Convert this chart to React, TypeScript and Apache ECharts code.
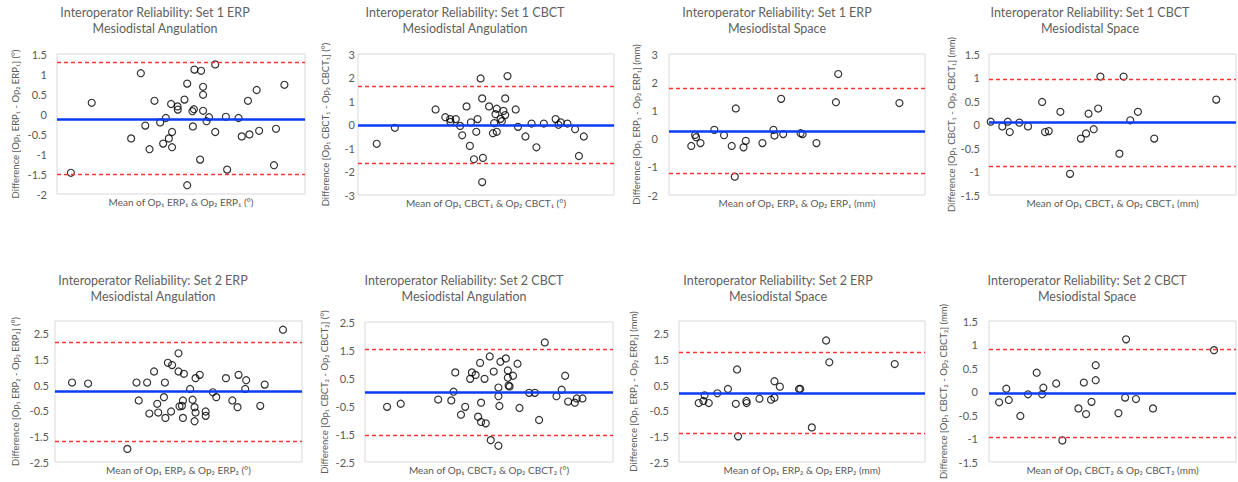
import React, { useEffect, useRef } from "react";
import * as echarts from "echarts";

const FONT = "Lato, 'Liberation Sans', 'DejaVu Sans', sans-serif";
const GRAY = "#595959";
const BLUE = "#0a3cf5";
const RED = "#ff3333";

// x = relative position along the (unlabelled) mean axis, 0–100; y = difference
const set1ErpAngle: [number, number][] = [
  [5.6, -1.47], [14, 0.28], [33.8, 1.02], [29.9, -0.61], [35.6, -0.29], [37.3, -0.88], [39.3, 0.33],
  [41.6, -0.21], [42.8, -0.74], [43.9, -0.1], [45.1, -0.61], [46, 0.25], [46.4, -0.45], [46.4, -0.83],
  [48.6, 0.19], [48.7, 0.11], [51.4, 0.36], [52.5, 0.76], [52.5, -1.78], [54.6, 0.07], [54.8, -0.31],
  [55.2, 0.12], [55.4, 1.11], [57.7, -1.14], [58.1, 1.08], [58.9, 0.68], [58.9, 0.48], [58.9, 0.08],
  [60.3, -0.18], [61.3, -0.08], [63.8, 1.24], [63.8, -0.45], [68.1, -0.07], [68.6, -1.39], [73.2, -0.1],
  [74.5, -0.56], [77, 0.33], [77.6, -0.51], [80.5, 0.6], [81.5, -0.42], [87.5, -1.28], [88.3, -0.37],
  [91.7, 0.73],
];
const set1CbctAngle: [number, number][] = [
  [7.3, -0.82], [14.4, -0.14], [30.3, 0.64], [34.1, 0.31], [36, 0.23], [36.1, 0.11], [38.2, 0.23],
  [39.9, -0.06], [40.7, -0.46], [42.4, 0.77], [43.7, -0.91], [44.1, 0.09], [45.3, -1.48], [46.2, -0.31],
  [46.7, 0.23], [47.9, 1.96], [48.5, 1.11], [48.5, -2.45], [48.8, -1.42], [51.2, 0.77], [52.7, -0.37],
  [53.2, 0.06], [53.7, 0.44], [54.2, 0.67], [54.2, -0.31], [55.7, 0.24], [56.2, 0.14], [56.8, 0.58],
  [57.5, 1.11], [57.5, 0.4], [58.4, 2.06], [61.6, 0.64], [62.5, -0.1], [65.4, -0.51], [67.8, 0.04],
  [69.7, -0.97], [72.6, 0.04], [77.2, 0.23], [78.3, -0.01], [79.2, 0.09], [81.8, 0.04], [84.8, -0.2],
  [86.3, -1.34], [88.2, -0.51],
];
const set1ErpSpace: [number, number][] = [
  [8.7, -0.26], [10.2, 0.13], [10.6, 0.05], [12.3, -0.16], [17.7, 0.31], [21.5, 0.12], [24.5, -0.26],
  [25.7, -1.35], [26.1, 1.07], [29.1, -0.31], [30, -0.08], [36.5, -0.16], [40.8, 0.31], [41.2, 0.11],
  [43.8, 1.41], [44.6, 0.16], [51.4, 0.19], [52.2, 0.16], [57.6, -0.16], [65.2, 1.29], [66.1, 2.29],
  [90, 1.26],
];
const set1CbctSpace: [number, number][] = [
  [0.7, 0.06], [5.4, -0.04], [7.6, 0.06], [8.4, -0.16], [12.3, 0.04], [15.8, -0.04], [21.5, 0.48],
  [22.7, -0.16], [24.2, -0.14], [28.9, 0.27], [32.8, -1.05], [37.2, -0.3], [39.3, -0.19], [40.3, 0.23],
  [42.4, -0.1], [44.2, 0.34], [45.1, 1.02], [52.8, -0.62], [54.5, 1.02], [57.2, 0.09], [60.3, 0.27],
  [66.9, -0.3], [92, 0.53],
];
const set2ErpAngle: [number, number][] = [
  [6.9, 0.6], [13.4, 0.56], [29.3, -1.99], [33, 0.6], [33.9, -0.1], [37.3, 0.6], [38.2, -0.61],
  [40.1, 1.03], [41.4, -0.23], [41.8, -0.57], [44.1, 0.03], [44.5, 0.6], [44.7, -0.78], [45.7, 1.37],
  [47, -0.53], [47.4, 1.28], [50, 1.74], [50, 1.03], [50.4, -0.33], [51.4, -0.31], [51.8, -0.1],
  [51.8, -0.78], [52.2, 0.94], [54.7, 0.35], [55.7, -0.07], [56.5, -0.36], [56.9, 0.77], [56.9, -0.57],
  [56.5, -0.91], [58.6, 0.9], [61, -0.53], [61, -0.7], [63.9, 0.22], [65.3, 0.03], [69.2, 0.77],
  [71.8, -0.1], [73.9, -0.36], [74.3, 0.9], [77.4, 0.69], [77, 0.35], [83.1, -0.31], [84.9, 0.52],
  [92.3, 2.66],
];
const set2CbctAngle: [number, number][] = [
  [8.9, -0.53], [14.4, -0.42], [29.5, -0.27], [34.8, -0.3], [35.7, 0.01], [36.4, 0.7], [38.7, -0.81],
  [40.4, -0.53], [42.4, 0.47], [43.1, 0.7], [44.6, 0.61], [45.6, -0.88], [46.4, 1.04], [46.8, -0.38],
  [46.8, -1.07], [48.2, 0.47], [48.7, -1.12], [50.3, 1.27], [50.7, -1.72], [51.9, 0.73], [53.8, 0.16],
  [53.8, -0.15], [53.8, -1.92], [54.2, -0.5], [54.6, 1.08], [56.8, 1.2], [57.6, 0.77], [57.6, 0.51],
  [57.9, 0.23], [58.3, 0.2], [59.7, 0.58], [61.5, 1.01], [62.3, -0.57], [66.2, -0.03], [68.5, -0.03],
  [70.2, -1], [72.5, 1.77], [77.2, -0.15], [79.3, 0.08], [80.7, 0.58], [81.9, -0.34], [84.6, -0.38],
  [85.4, -0.23], [87.7, -0.23],
];
const set2ErpSpace: [number, number][] = [
  [8, -0.2], [9.9, -0.12], [10.4, 0.1], [12.1, -0.2], [15.6, 0.18], [19.9, 0.35], [23.1, -0.23],
  [23.6, 1.11], [24, -1.5], [27.4, -0.12], [27.5, -0.2], [32.7, -0.03], [37.4, -0.07], [38.8, 0.01],
  [38.8, 0.65], [41, 0.44], [48.8, 0.35], [49.3, 0.35], [54, -1.15], [59.8, 2.24], [61.1, 1.39],
  [87.7, 1.32],
];
const set2CbctSpace: [number, number][] = [
  [4.1, -0.23], [7, 0.06], [8, -0.18], [12.7, -0.52], [15.8, -0.06], [19.3, 0.4], [21.5, -0.06],
  [22, 0.08], [27.2, 0.17], [29.7, -1.04], [36.2, -0.36], [38.4, 0.19], [39.3, -0.48], [41.5, -0.22],
  [43.2, 0.56], [43.2, 0.24], [52.4, -0.46], [55.1, -0.13], [55.5, 1.11], [59.5, -0.16], [66.4, -0.36],
  [91.1, 0.88],
];

// [mean difference, upper limit, lower limit]
const lines1ErpAngle = [-0.12, 1.29, -1.51];
const lines1CbctAngle = [-0.02, 1.62, -1.64];
const lines1ErpSpace = [0.27, 1.77, -1.24];
const lines1CbctSpace = [0.04, 0.97, -0.88];
const lines2ErpAngle = [0.27, 2.17, -1.68];
const lines2CbctAngle = [-0.01, 1.53, -1.55];
const lines2ErpSpace = [0.18, 1.8, -1.38];
const lines2CbctSpace = [-0.04, 0.89, -0.97];

// y tick labels
const ticksA = [-2, -1.5, -1, -0.5, 0, 0.5, 1, 1.5];
const ticksB = [-3, -2, -1, 0, 1, 2, 3];
const ticksC = [-2, -1, 0, 1, 2, 3];
const ticksD = [-1.5, -1, -0.5, 0, 0.5, 1, 1.5];
const ticksE = [-2.5, -1.5, -0.5, 0.5, 1.5, 2.5];

const titles = [
  "Interoperator Reliability: Set 1 ERP\nMesiodistal Angulation",
  "Interoperator Reliability: Set 1 CBCT\nMesiodistal Angulation",
  "Interoperator Reliability: Set 1 ERP\nMesiodistal Space",
  "Interoperator Reliability: Set 1 CBCT\nMesiodistal Space",
  "Interoperator Reliability: Set 2 ERP\nMesiodistal Angulation",
  "Interoperator Reliability: Set 2 CBCT\nMesiodistal Angulation",
  "Interoperator Reliability: Set 2 ERP\nMesiodistal Space",
  "Interoperator Reliability: Set 2 CBCT\nMesiodistal Space",
];
const xNames = [
  "Mean of Op₁ ERP₁ & Op₂ ERP₁ (°)",
  "Mean of Op₁ CBCT₁ & Op₂ CBCT₁ (°)",
  "Mean of Op₁ ERP₁ & Op₂ ERP₁ (mm)",
  "Mean of Op₁ CBCT₁ & Op₂ CBCT₁ (mm)",
  "Mean of Op₁ ERP₂ & Op₂ ERP₂ (°)",
  "Mean of Op₁ CBCT₂ & Op₂ CBCT₂ (°)",
  "Mean of Op₁ ERP₂ & Op₂ ERP₂ (mm)",
  "Mean of Op₁ CBCT₂ & Op₂ CBCT₂ (mm)",
];
const yNames = [
  "Difference [Op₁ ERP₁ - Op₂ ERP₁] (°)",
  "Difference [Op₁ CBCT₁ - Op₂ CBCT₁] (°)",
  "Difference [Op₁ ERP₁ - Op₂ ERP₁] (mm)",
  "Difference [Op₁ CBCT₁ - Op₂ CBCT₁] (mm)",
  "Difference [Op₁ ERP₂ - Op₂ ERP₂] (°)",
  "Difference [Op₁ CBCT₂ - Op₂ CBCT₂] (°)",
  "Difference [Op₁ ERP₂ - Op₂ ERP₂] (mm)",
  "Difference [Op₁ CBCT₂ - Op₂ CBCT₂] (mm)",
];

const panelData = [set1ErpAngle, set1CbctAngle, set1ErpSpace, set1CbctSpace, set2ErpAngle, set2CbctAngle, set2ErpSpace, set2CbctSpace];
const panelLines = [lines1ErpAngle, lines1CbctAngle, lines1ErpSpace, lines1CbctSpace, lines2ErpAngle, lines2CbctAngle, lines2ErpSpace, lines2CbctSpace];
// [min, max, step, ticks]
const panelY: [number, number, number, number[]][] = [
  [-2, 1.5, 0.5, ticksA],
  [-3, 3, 1, ticksB],
  [-2, 3, 1, ticksC],
  [-1.5, 1.5, 0.5, ticksD],
  [-2.5, 3, 0.5, ticksE],
  [-2.5, 2.5, 0.5, ticksE],
  [-2.5, 3, 0.5, ticksE],
  [-1.5, 1.5, 0.5, ticksD],
];

// layout: grid rect, title centre, y-name gap, label margin
const layout = [
  { left: 57, top: 54, width: 248, height: 140, tx: 155, ty: 4, gap: 37, lm: 10 },
  { left: 358, top: 54, width: 256, height: 141, tx: 465, ty: 4, gap: 28, lm: 3 },
  { left: 669, top: 54, width: 256, height: 141, tx: 777, ty: 4, gap: 28, lm: 11 },
  { left: 989, top: 54, width: 247, height: 141, tx: 1090, ty: 4, gap: 32, lm: 9 },
  { left: 55, top: 321, width: 247, height: 141, tx: 153, ty: 272, gap: 35, lm: 6 },
  { left: 365, top: 322, width: 248, height: 140, tx: 464, ty: 272, gap: 36, lm: 10 },
  { left: 679, top: 321, width: 246, height: 141, tx: 778, ty: 272, gap: 41, lm: 10 },
  { left: 989, top: 321, width: 247, height: 141, tx: 1087, ty: 272, gap: 41, lm: 11 },
];

export default function App() {
  const ref = useRef<HTMLDivElement>(null);
  useEffect(() => {
    if (!ref.current) return;
    const chart = echarts.init(ref.current, null, { renderer: "svg" });
    const option: any = {
      animation: false,
      backgroundColor: "#ffffff",
      title: titles.map((t, i) => ({
        text: t,
        left: layout[i].tx,
        top: layout[i].ty,
        textAlign: "center",
        textVerticalAlign: "top",
        padding: 0,
        textStyle: { fontFamily: FONT, fontSize: 12.5, fontWeight: "normal", color: "#5f5f5f", lineHeight: 16 },
      })),
      grid: layout.map((l) => ({
        left: l.left,
        top: l.top,
        width: l.width,
        height: l.height,
        show: true,
        borderColor: "#d9d9d9",
        borderWidth: 1,
        backgroundColor: "rgba(0,0,0,0)",
        containLabel: false,
        outerBoundsMode: "none",
      })),
      xAxis: xNames.map((n, i) => ({
        type: "value",
        gridIndex: i,
        min: 0,
        max: 100,
        axisLine: { show: false },
        axisTick: { show: false },
        axisLabel: { show: false },
        splitLine: { show: false },
        name: n,
        nameLocation: "middle",
        nameGap: 3,
        nameTextStyle: { fontFamily: FONT, fontSize: 10, color: GRAY, verticalAlign: "top" },
      })),
      yAxis: yNames.map((n, i) => {
        const [min, max, step, ticks] = panelY[i];
        return {
          type: "value",
          gridIndex: i,
          min,
          max,
          interval: step,
          axisLine: { show: false },
          axisTick: { show: false },
          splitLine: { show: false },
          axisLabel: {
            fontFamily: FONT,
            fontSize: 11,
            color: GRAY,
            margin: layout[i].lm,
            formatter: (v: number) => (ticks.some((t) => Math.abs(t - v) < 1e-9) ? String(v) : ""),
          },
          name: n,
          nameLocation: "middle",
          nameRotate: 90,
          nameGap: layout[i].gap,
          nameTextStyle: { fontFamily: FONT, fontSize: 9.5, color: GRAY },
        };
      }),
      series: panelData.map((d, i) => ({
        type: "scatter",
        xAxisIndex: i,
        yAxisIndex: i,
        data: d,
        symbol: "circle",
        symbolSize: 7,
        silent: true,
        itemStyle: { color: "rgba(0,0,0,0)", borderColor: "#000000", borderWidth: 1.2 },
        markLine: {
          silent: true,
          symbol: ["none", "none"],
          label: { show: false },
          data: [
            { yAxis: panelLines[i][0], lineStyle: { color: BLUE, width: 2.5, type: "solid" } },
            { yAxis: panelLines[i][1], lineStyle: { color: RED, width: 1.3, type: [4, 3] } },
            { yAxis: panelLines[i][2], lineStyle: { color: RED, width: 1.3, type: [4, 3] } },
          ],
        },
      })),
    };
    chart.setOption(option);
    return () => chart.dispose();
  }, []);
  return (
    <div
      ref={ref}
      style={{ position: "fixed", left: 0, top: 0, width: 1238, height: 482, background: "#fff" }}
    />
  );
}
